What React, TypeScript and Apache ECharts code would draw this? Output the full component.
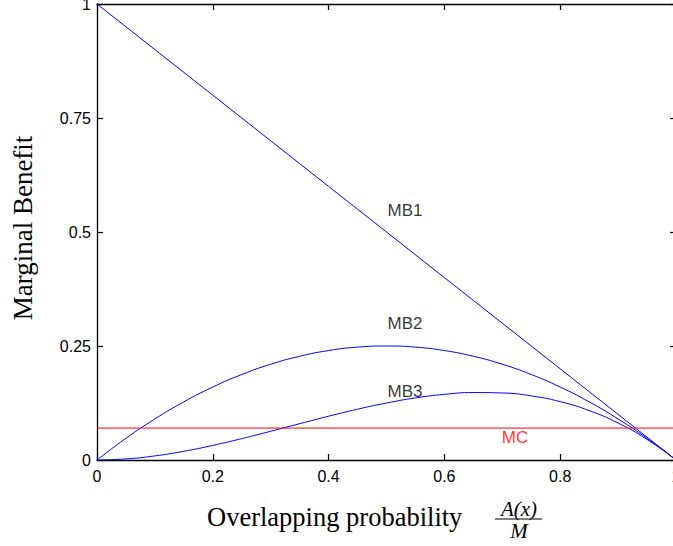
import React, { useEffect, useRef } from "react";
import * as echarts from "echarts";

const xs = [0, 0.05, 0.1, 0.15, 0.2, 0.25, 0.3, 0.35, 0.4, 0.45, 0.5, 0.55, 0.6, 0.65, 0.7, 0.75, 0.8, 0.85, 0.9, 0.95, 1];
const mb1 = [1, 0.95, 0.9, 0.85, 0.8, 0.75, 0.7, 0.65, 0.6, 0.55, 0.5, 0.45, 0.4, 0.35, 0.3, 0.25, 0.2, 0.15, 0.1, 0.05, 0];
const mb2 = [0, 0.0475, 0.09, 0.1275, 0.16, 0.1875, 0.21, 0.2275, 0.24, 0.2475, 0.25, 0.2475, 0.24, 0.2275, 0.21, 0.1875, 0.16, 0.1275, 0.09, 0.0475, 0];
const mb3 = [0, 0.0024, 0.009, 0.0191, 0.032, 0.0469, 0.063, 0.0796, 0.096, 0.1114, 0.125, 0.1361, 0.144, 0.1479, 0.147, 0.1406, 0.128, 0.1084, 0.081, 0.0451, 0];
const mcX = [0, 1];
const mcY = [0.07, 0.07];

const curveLabels = [
  { name: "MB1", x: 0.532, y: 0.548 },
  { name: "MB2", x: 0.532, y: 0.299 },
  { name: "MB3", x: 0.532, y: 0.15 },
];
const mcLabel = { name: "MC", x: 0.722, y: 0.049 };

const SANS = "'Liberation Sans', Arial, Helvetica, sans-serif";
const SERIF = "'Liberation Serif', 'Times New Roman', serif";

export default function App() {
  const ref = useRef<HTMLDivElement>(null);
  useEffect(() => {
    if (!ref.current) return;
    const chart = echarts.init(ref.current, undefined, { renderer: "svg" });
    const pairs = (a: number[], b: number[]) => a.map((v, i) => [v, b[i]]);
    const axisCommon = {
      type: "value" as const,
      min: 0,
      max: 1,
      splitLine: { show: false },
      axisLine: { show: true, onZero: false, lineStyle: { color: "#000", width: 1.3 } },
      axisTick: { show: true, inside: true, length: 6, lineStyle: { color: "#000", width: 1.2 } },
    };
    chart.setOption({
      animation: false,
      grid: { left: 97, top: 4, width: 579, height: 456, outerBoundsMode: "none", containLabel: false },
      xAxis: [
        {
          ...axisCommon,
          position: "bottom",
          interval: 0.2,
          axisLabel: { color: "#000", fontFamily: SANS, fontSize: 16, margin: 8 },
        },
        {
          ...axisCommon,
          position: "top",
          interval: 0.2,
          axisLabel: { show: false },
        },
      ],
      yAxis: [
        {
          ...axisCommon,
          position: "left",
          interval: 0.25,
          axisLabel: { color: "#000", fontFamily: SANS, fontSize: 16, margin: 6 },
        },
        {
          ...axisCommon,
          position: "right",
          interval: 0.25,
          axisLabel: { show: false },
        },
      ],
      series: [
        {
          name: "MB1",
          type: "line",
          data: pairs(xs, mb1),
          showSymbol: false,
          lineStyle: { color: "#0000ff", width: 1 },
        },
        {
          name: "MB2",
          type: "line",
          smooth: true,
          data: pairs(xs, mb2),
          showSymbol: false,
          lineStyle: { color: "#0000ff", width: 1 },
        },
        {
          name: "MB3",
          type: "line",
          smooth: true,
          data: pairs(xs, mb3),
          showSymbol: false,
          lineStyle: { color: "#0000ff", width: 1 },
        },
        {
          name: "MC",
          type: "line",
          data: pairs(mcX, mcY),
          showSymbol: false,
          lineStyle: { color: "#ff0000", width: 1 },
        },
        {
          name: "labels",
          type: "scatter",
          symbolSize: 0,
          data: curveLabels.map((l) => ({ value: [l.x, l.y], name: l.name })),
          label: {
            show: true,
            formatter: (p: any) => p.name,
            position: "inside",
            color: "#000",
            fontFamily: SANS,
            fontSize: 17,
          },
          silent: true,
        },
        {
          name: "mcLabel",
          type: "scatter",
          symbolSize: 0,
          data: [{ value: [mcLabel.x, mcLabel.y], name: mcLabel.name }],
          label: {
            show: true,
            formatter: (p: any) => p.name,
            position: "inside",
            color: "#ff0000",
            fontFamily: SANS,
            fontSize: 17,
          },
          silent: true,
        },
      ],
      graphic: [
        {
          type: "text",
          x: 23,
          y: 228,
          rotation: Math.PI / 2,
          style: {
            text: "Marginal Benefit",
            fontFamily: SERIF,
            fontSize: 27,
            fill: "#000",
            align: "center",
            verticalAlign: "middle",
          },
        },
        {
          type: "text",
          x: 207,
          y: 517,
          style: {
            text: "Overlapping probability",
            fontFamily: SERIF,
            fontSize: 26.5,
            fill: "#000",
            align: "left",
            verticalAlign: "middle",
          },
        },
        {
          type: "text",
          x: 519,
          y: 509,
          style: {
            text: "A(x)",
            fontFamily: SERIF,
            fontStyle: "italic",
            fontSize: 21,
            fill: "#000",
            align: "center",
            verticalAlign: "middle",
          },
        },
        {
          type: "line",
          shape: { x1: 495, y1: 519, x2: 542, y2: 519 },
          style: { stroke: "#000", lineWidth: 1 },
        },
        {
          type: "text",
          x: 519,
          y: 531,
          style: {
            text: "M",
            fontFamily: SERIF,
            fontStyle: "italic",
            fontSize: 21,
            fill: "#000",
            align: "center",
            verticalAlign: "middle",
          },
        },
      ],
    });
    return () => chart.dispose();
  }, []);
  return (
    <div
      ref={ref}
      style={{ position: "fixed", left: 0, top: 0, width: 673, height: 546, background: "#fff" }}
    />
  );
}
